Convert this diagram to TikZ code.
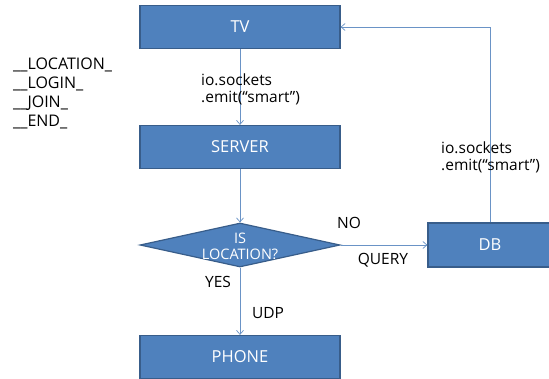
\documentclass[tikz,border=0pt]{standalone}
\usepackage{fontspec}
\setmainfont{Open Sans}
\usetikzlibrary{shapes.geometric,arrows.meta}
\definecolor{boite}{HTML}{4F81BD}
\definecolor{bord}{HTML}{385D8A}
\definecolor{fil}{HTML}{6A93C6}
\begin{document}
\begin{tikzpicture}[x=1pt,y=-1pt,
    bloc/.style={draw=bord,line width=1.2pt,fill=boite,text=white,minimum width=200pt,minimum height=43pt,inner sep=0pt,font=\fontsize{16.5}{19}\selectfont},
    fleche/.style={draw=fil,line width=0.7pt,-{Straight Barb[length=4pt,width=7pt]}},
    etiq/.style={font=\fontsize{15.5}{17}\selectfont,align=left,inner sep=0pt}]
    \useasboundingbox (0,0) rectangle (549,378);
    \node[bloc] (tv) at (240,27) {TV};
    \node[bloc] (server) at (240,147) {SERVER};
    \node[bloc,diamond,minimum width=200pt,minimum height=44pt] (loc) at (240,245) {};
    \node[text=white,inner sep=0pt,align=center,font=\fontsize{14.5}{16}\selectfont] (loctxt) at (240,246) {IS\\LOCATION?};
    \node[bloc,minimum width=124pt,minimum height=44pt] (db) at (490,245) {DB};
    \node[bloc] (phone) at (240,357) {PHONE};
    % liste des messages
    \node[etiq,anchor=west,font=\fontsize{16}{19}\selectfont] (liste) at (13,93) {\_\_LOCATION\_\\\_\_LOGIN\_\\\_\_JOIN\_\\\_\_END\_};
    \draw[fleche] (tv) -- (server);
    \draw[fleche] (server) -- (loc);
    \draw[fleche] (loc) -- (db);
    \draw[fleche] (loc) -- (phone);
    \draw[fleche] (db.north) |- (tv.east);%retour vers la TV
    \node[etiq,anchor=west] (emit1) at (201,89) {io.sockets\\.emit(“smart”)};
    \node[etiq,anchor=west] (emit2) at (441,157) {io.sockets\\.emit(“smart”)};
    \node[etiq] (no) at (349,223) {NO};
    \node[etiq] (query) at (383,260) {QUERY};
    \node[etiq] (yes) at (218,282) {YES};
    \node[etiq] (udp) at (268,313) {UDP};
\end{tikzpicture}
\end{document}
